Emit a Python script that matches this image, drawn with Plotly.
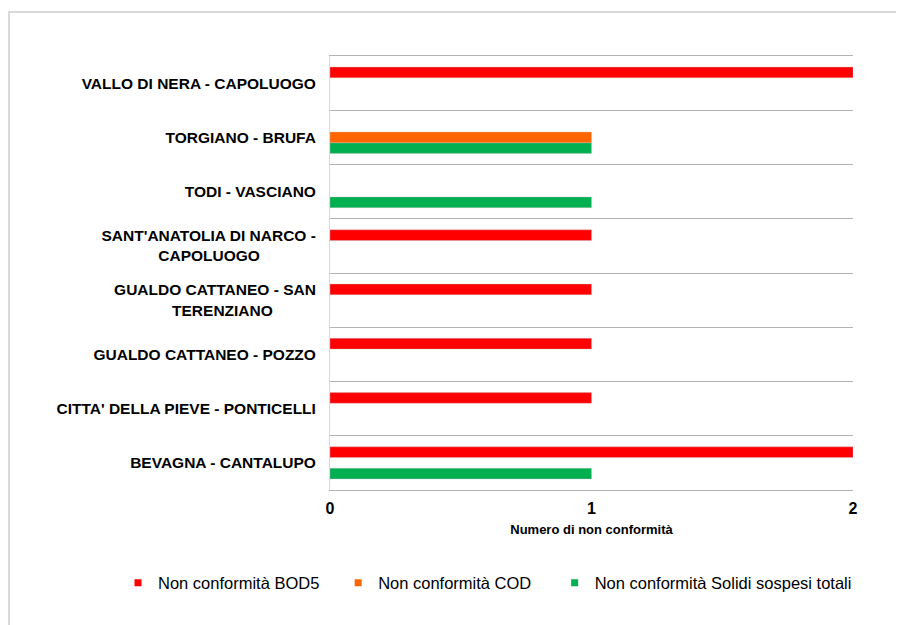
import plotly.graph_objects as go

categories = [
    "BEVAGNA - CANTALUPO",
    "CITTA' DELLA PIEVE - PONTICELLI",
    "GUALDO CATTANEO - POZZO",
    "GUALDO CATTANEO - SAN TERENZIANO",
    "SANT'ANATOLIA DI NARCO - CAPOLUOGO",
    "TODI - VASCIANO",
    "TORGIANO - BRUFA",
    "VALLO DI NERA - CAPOLUOGO",
]
tick_labels = [
    "BEVAGNA - CANTALUPO",
    "CITTA' DELLA PIEVE - PONTICELLI",
    "GUALDO CATTANEO - POZZO",
    "GUALDO CATTANEO - SAN<br>TERENZIANO" + "\u00a0" * 10,
    "SANT'ANATOLIA DI NARCO -<br>CAPOLUOGO" + "\u00a0" * 13,
    "TODI - VASCIANO",
    "TORGIANO - BRUFA",
    "VALLO DI NERA - CAPOLUOGO",
]
bod5 = [2, 1, 1, 1, 1, None, None, 2]
cod = [None, None, None, None, None, None, 1, None]
sst = [1, None, None, None, None, 1, 1, None]

series_names = ["Non conformità BOD5", "Non conformità COD", "Non conformità Solidi sospesi totali"]
legend_pad = [3, 4, 0]
colors = ["#FF0000", "#FF6600", "#00B050"]
x_ticks = [0, 1, 2]

FONT = "Liberation Sans, Arial, sans-serif"

# page body offsets the figure by 8px; target plot area is x 330..853, y 56..490
W, H = 896, 617
L, T = 322, 48
PW, PH = 523, 434
fig = go.Figure()
# horizontal grouped bars: first trace sits lowest, so add in reverse order
for vals, name, col in zip([sst, cod, bod5], series_names[::-1], colors[::-1]):
    fig.add_trace(go.Bar(
        y=categories, x=vals, orientation="h", name=name,
        marker=dict(color=col, line=dict(color="rgba(190,190,190,0.6)", width=0.6)),
        showlegend=False,
    ))
# legend entries with small square symbols
for name, col, pad in zip(series_names, colors, legend_pad):
    fig.add_trace(go.Scatter(
        x=[None], y=[None], mode="markers", name=name + "\u00a0" * pad,
        marker=dict(symbol="square", size=7, color=col),
        showlegend=True,
    ))

fig.update_layout(
    width=W, height=H,
    margin=dict(l=L, r=W - L - PW, t=T, b=H - T - PH),
    paper_bgcolor="white", plot_bgcolor="white",
    barmode="group", bargap=0.41, bargroupgap=0,
    font=dict(family=FONT, color="#000000"),
    showlegend=True,
    legend=dict(
        orientation="h", x=(118 - 330) / PW, xanchor="left", y=(490 - 583) / PH, yanchor="middle",
        font=dict(size=16.5, family=FONT, color="#000"),
        itemwidth=30, bgcolor="rgba(0,0,0,0)",
    ),
    shapes=[dict(
        type="rect", xref="paper", yref="paper",
        x0=(1 - L) / PW, x1=2.0, y0=-1.0, y1=(490 - 12) / PH,
        line=dict(color="#d9d9d9", width=2), fillcolor="rgba(0,0,0,0)", layer="below",
    )],
)
fig.update_xaxes(
    range=[0, 2], tickvals=x_ticks, ticktext=[f"<b>{v}</b>" for v in x_ticks],
    tickfont=dict(size=16, family=FONT, color="#000"),
    showgrid=False, zeroline=False,
    showline=True, linecolor="#b3b3b3", linewidth=1, mirror=True,
    ticks="", ticklabelstandoff=4,
    title=dict(text="<b>Numero di non conformità</b>", font=dict(size=13, family=FONT, color="#000"), standoff=8),
)
fig.update_yaxes(
    type="category", categoryorder="array", categoryarray=categories,
    tickvals=categories, ticktext=[f"<b>{c}</b>" for c in tick_labels],
    tickfont=dict(size=15.5, family=FONT, color="#000"),
    tickson="boundaries", showgrid=True, gridcolor="#b3b3b3", gridwidth=1,
    showline=True, linecolor="#d9d9d9", linewidth=1,
    ticks="", ticklabelstandoff=10,
)

fig.write_html("out.html")
